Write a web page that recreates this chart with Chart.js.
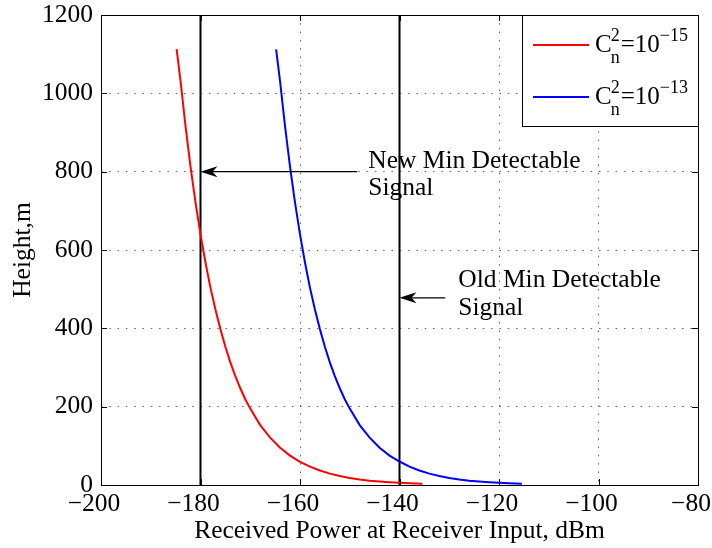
<!DOCTYPE html>
<html>
<head>
<meta charset="utf-8">
<script src="https://cdn.jsdelivr.net/npm/chart.js@4.4.0/dist/chart.umd.min.js"></script>
<style>
  html, body { margin: 0; padding: 0; background: #fff; }
  #wrap { width: 712px; height: 548px; }
</style>
</head>
<body>
<div id="wrap"><canvas id="chart" width="712" height="548"></canvas></div>
<script>
(() => {
  "use strict";

  // ====== Data ======
  // C_n^2 = 1e-15 (red)
  const redPower = [-184.8, -184, -183, -182, -181, -180, -179, -178, -177, -176, -175, -174,
    -173, -172, -171, -170, -168, -166, -164, -162, -160, -158, -156, -154, -152, -150,
    -148, -146, -144, -142, -140, -138, -135.4];
  const redHeight = [1113, 1030, 915, 812, 721, 640, 568, 504, 448, 398, 353, 313,
    278, 247, 219, 195, 153, 121, 95, 75, 59, 47, 37, 29, 23, 18,
    14, 11, 9, 7, 5.5, 4.5, 3.5];

  // C_n^2 = 1e-13 (blue)
  const bluePower = [-164.8, -164, -163, -162, -161, -160, -159, -158, -157, -156, -155, -154,
    -153, -152, -151, -150, -148, -146, -144, -142, -140, -138, -136, -134, -132, -130,
    -128, -126, -124, -122, -120, -118, -115.4];
  const blueHeight = [1112, 1030, 915, 812, 721, 640, 568, 504, 448, 398, 353, 313,
    278, 247, 219, 195, 153, 121, 95, 75, 60, 47, 37, 29, 23, 18,
    14, 11, 9, 7, 5.5, 4.5, 3.5];

  // detection thresholds (vertical lines), dBm
  const newMinSignal = -180;
  const oldMinSignal = -140;

  // annotation arrows
  const newLabel = ["New Min Detectable", "Signal"];
  const oldLabel = ["Old Min Detectable", "Signal"];
  const newArrowFrom = -148.5;
  const newArrowHeight = 800;
  const oldArrowFrom = -130.8;
  const oldArrowHeight = 478;

  const legendExp = ["\u221215", "\u221213"];
  const xTitle = "Received Power at Receiver Input, dBm";
  const yTitle = "Height,m";

  const X_MIN = -200, X_MAX = -80, X_STEP = 20;
  const Y_MIN = 0, Y_MAX = 1200, Y_STEP = 200;

  const SERIF = "'Liberation Serif', 'Times New Roman', serif";

  const toXY = (xs, ys) => xs.map((x, i) => ({ x, y: ys[i] }));
  const plain = (v) => String(v).replace("-", "\u2212");

  // ====== Drawing helpers ======
  function arrowLeft(ctx, x0, x1, y) {
    ctx.save();
    ctx.strokeStyle = "#000";
    ctx.fillStyle = "#000";
    ctx.lineWidth = 1.2;
    ctx.beginPath();
    ctx.moveTo(x1, y);
    ctx.lineTo(x0 + 8, y);
    ctx.stroke();
    ctx.beginPath();
    ctx.moveTo(x0, y);
    ctx.lineTo(x0 + 17, y - 5.5);
    ctx.lineTo(x0 + 12, y);
    ctx.lineTo(x0 + 17, y + 5.5);
    ctx.closePath();
    ctx.fill();
    ctx.restore();
  }

  function drawCn(ctx, x, base, exp) {
    ctx.font = `25px ${SERIF}`;
    ctx.fillText("C", x, base);
    let cx = x + ctx.measureText("C").width - 1;
    ctx.font = `18px ${SERIF}`;
    ctx.fillText("2", cx, base - 11);
    ctx.fillText("n", cx, base + 11);
    cx += Math.max(ctx.measureText("2").width, ctx.measureText("n").width) + 1;
    ctx.font = `25px ${SERIF}`;
    ctx.fillText("=10", cx, base);
    cx += ctx.measureText("=10").width;
    ctx.font = `18px ${SERIF}`;
    ctx.fillText(exp, cx, base - 11);
  }

  const overlay = {
    id: "overlay",
    afterDraw(chart) {
      const { ctx, chartArea: a, scales: { x, y } } = chart;
      ctx.save();

      // frame
      ctx.strokeStyle = "#000";
      ctx.lineWidth = 1;
      ctx.strokeRect(Math.round(a.left) + 0.5, Math.round(a.top) + 0.5,
        Math.round(a.right - a.left), Math.round(a.bottom - a.top));

      // inward ticks on all sides
      ctx.beginPath();
      for (let v = X_MIN; v <= X_MAX; v += X_STEP) {
        const px = Math.round(x.getPixelForValue(v)) + 0.5;
        ctx.moveTo(px, a.bottom); ctx.lineTo(px, a.bottom - 6);
        ctx.moveTo(px, a.top); ctx.lineTo(px, a.top + 6);
      }
      for (let v = Y_MIN; v <= Y_MAX; v += Y_STEP) {
        const py = Math.round(y.getPixelForValue(v)) + 0.5;
        ctx.moveTo(a.left, py); ctx.lineTo(a.left + 6, py);
        ctx.moveTo(a.right, py); ctx.lineTo(a.right - 6, py);
      }
      ctx.stroke();

      // annotations
      const nY = y.getPixelForValue(newArrowHeight);
      arrowLeft(ctx, x.getPixelForValue(newMinSignal), x.getPixelForValue(newArrowFrom), nY);
      const oY = y.getPixelForValue(oldArrowHeight);
      arrowLeft(ctx, x.getPixelForValue(oldMinSignal), x.getPixelForValue(oldArrowFrom), oY);

      ctx.fillStyle = "#000";
      ctx.font = `25.5px ${SERIF}`;
      ctx.textAlign = "left";
      ctx.textBaseline = "alphabetic";
      const nx = x.getPixelForValue(newArrowFrom) + 11;
      ctx.fillText(newLabel[0], nx, nY - 4);
      ctx.fillText(newLabel[1], nx, nY + 23);
      const ox = x.getPixelForValue(oldArrowFrom) + 13;
      ctx.fillText(oldLabel[0], ox, oY - 11);
      ctx.fillText(oldLabel[1], ox, oY + 17);

      // legend box (top right)
      const lw = 176, lh = 111;
      const lx = Math.round(a.right) - lw, ly = Math.round(a.top);
      ctx.fillStyle = "#fff";
      ctx.fillRect(lx, ly, lw, lh);
      ctx.strokeStyle = "#000";
      ctx.lineWidth = 1;
      ctx.strokeRect(lx + 0.5, ly + 0.5, lw, lh);

      const colors = ["#ff0000", "#0000ff"];
      colors.forEach((c, i) => {
        const ry = ly + 30 + i * 52;
        ctx.strokeStyle = c;
        ctx.lineWidth = 2;
        ctx.beginPath();
        ctx.moveTo(lx + 11, ry);
        ctx.lineTo(lx + 67, ry);
        ctx.stroke();
        ctx.fillStyle = "#000";
        drawCn(ctx, lx + 73, ry + 7, legendExp[i]);
      });

      ctx.restore();
    }
  };

  // keep the plot box where the reference has it
  function pinScale(s, size) {
    if (s.isHorizontal()) s.height = size; else s.width = size;
    s.paddingLeft = 0; s.paddingRight = 0;
    s.paddingTop = 0; s.paddingBottom = 0;
  }

  // ====== Chart setup ======
  const tickFont = { family: SERIF, size: 25.5 };
  const gridStyle = { color: "rgba(0,0,0,0.6)", lineWidth: 1, drawTicks: false };

  new Chart(document.getElementById("chart").getContext("2d"), {
    type: "scatter",
    data: {
      datasets: [
        {
          data: toXY(redPower, redHeight),
          showLine: true, borderColor: "#ff0000", borderWidth: 2,
          pointRadius: 0, tension: 0
        },
        {
          data: toXY(bluePower, blueHeight),
          showLine: true, borderColor: "#0000ff", borderWidth: 2,
          pointRadius: 0, tension: 0
        },
        {
          data: [{ x: newMinSignal, y: Y_MIN }, { x: newMinSignal, y: Y_MAX }],
          showLine: true, borderColor: "#000", borderWidth: 2, pointRadius: 0
        },
        {
          data: [{ x: oldMinSignal, y: Y_MIN }, { x: oldMinSignal, y: Y_MAX }],
          showLine: true, borderColor: "#000", borderWidth: 2, pointRadius: 0
        }
      ]
    },
    options: {
      responsive: false,
      animation: false,
      layout: { padding: { left: 0, top: 15, right: 14, bottom: 0 } },
      plugins: { legend: { display: false }, tooltip: { enabled: false } },
      scales: {
        x: {
          type: "linear", min: X_MIN, max: X_MAX,
          afterFit: (s) => pinScale(s, 63),
          ticks: { stepSize: X_STEP, color: "#000", font: tickFont, padding: 4,
            labelOffset: -7, maxRotation: 0, callback: plain },
          grid: gridStyle,
          border: { display: false, dash: [1.5, 6.8] },
          title: { display: true, text: xTitle, color: "#000", font: tickFont,
            padding: { top: 0, bottom: 1 } }
        },
        y: {
          type: "linear", min: Y_MIN, max: Y_MAX,
          afterFit: (s) => pinScale(s, 101),
          ticks: { stepSize: Y_STEP, color: "#000", font: tickFont, padding: 8,
            callback: plain },
          grid: gridStyle,
          border: { display: false, dash: [1.5, 6.8] },
          title: { display: true, text: yTitle, color: "#000", font: tickFont,
            padding: { top: 8, bottom: 0 } }
        }
      }
    },
    plugins: [overlay]
  });
})();
</script>
</body>
</html>
